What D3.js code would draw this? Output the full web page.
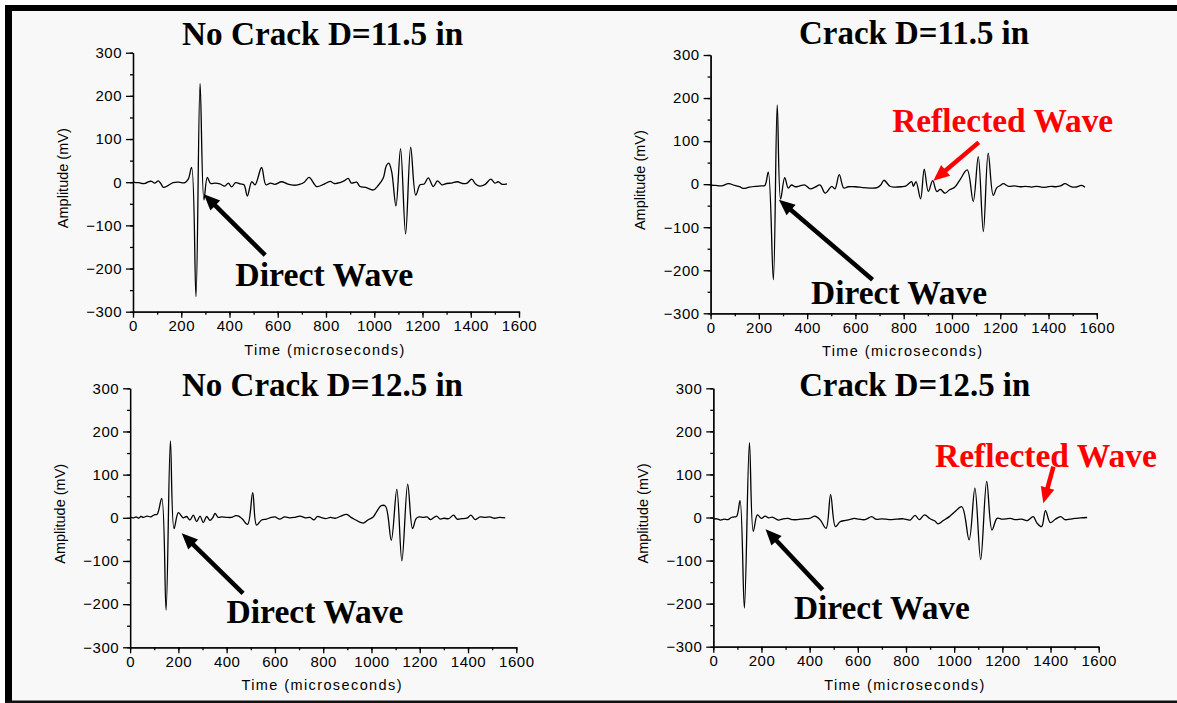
<!DOCTYPE html>
<html>
<head>
<meta charset="UTF-8">
<title>Direct and reflected waves</title>
<script src="https://d3js.org/d3.v7.min.js"></script>
<style>
  body { margin: 0; background: #fff; }
  svg text { font-family: "Liberation Sans", Arial, sans-serif; }
  .big { font-family: "Liberation Serif", "Times New Roman", serif !important; font-weight: bold; font-size: 33px; }
</style>
</head>
<body>
<svg width="1177" height="703"></svg>
<script>
// tick values
const timeTicks = [0, 200, 400, 600, 800, 1000, 1200, 1400, 1600];
const timeMinor = d3.range(0, 1601, 100);
const ampTicks = [-300, -200, -100, 0, 100, 200, 300];
const ampMinor = d3.range(-300, 301, 50);

// waveforms: [time (us), amplitude (mV)]
const noCrack115 = [
  [0,0],[12,-1],[25,-1],[38,-3],[50,-3],[63,1],[77,2],[90,-2],[105,3],[116,-4],[126,-12],
  [145,-8],[166,-1],[190,0],[215,-1],[229,7],[243,34],[261,-265],[278,229],[294,-41],[308,11],
  [322,-3],[340,-2],[360,-4],[381,-9],[395,-2],[409,-11],[425,-1],[445,-4],[460,-6],[474,-32],
  [492,1],[506,-6],[533,34],[551,-6],[570,-2],[588,-5],[616,1],[640,-4],[665,-7],[690,-5],
  [710,0],[730,11],[761,-10],[790,-5],[817,2],[835,-3],[858,-1],[875,3],[892,9],[905,-2],
  [927,0],[941,-10],[965,-12],[996,-18],[1017,-7],[1037,9],[1050,38],[1060,44],[1072,25],
  [1090,-55],[1109,78],[1130,-120],[1151,81],[1172,-30],[1190,-6],[1207,-4],[1224,10],
  [1245,-10],[1262,3],[1280,-6],[1300,-3],[1320,-2],[1345,1],[1365,-3],[1385,-2],[1404,7],
  [1420,-4],[1438,-9],[1460,-5],[1483,7],[1500,-2],[1514,1],[1530,-5],[1550,-4]
];
const crack115 = [
  [0,-2],[20,-3],[45,-4],[74,1],[100,-3],[120,-6],[135,-10],[160,-7],[185,-5],[210,-4],
  [225,-3],[239,28],[260,-222],[276,184],[290,-35],[307,15],[322,-9],[335,-2],[350,-6],
  [370,-4],[391,-2],[413,-11],[433,-7],[454,-2],[475,-21],[502,-5],[515,-11],[533,22],
  [552,-9],[570,-6],[600,-6],[630,-8],[660,-9],[690,-8],[705,-2],[718,9],[743,-5],[760,-7],
  [790,-6],[810,-4],[833,6],[840,-5],[851,6],[870,-34],[885,35],[902,-17],[920,8],[937,-17],
  [952,-12],[971,-21],[990,-13],[1010,-8],[1033,10],[1063,33],[1088,-40],[1109,64],
  [1130,-110],[1150,72],[1171,-26],[1186,-8],[1200,-3],[1213,1],[1235,-5],[1260,-4],
  [1282,-6],[1305,-5],[1330,-7],[1350,-5],[1370,-7],[1392,-7],[1410,-5],[1430,-6],
  [1450,-4],[1468,1],[1490,-5],[1510,-7],[1537,-3],[1551,-7]
];
const noCrack125 = [
  [0,1],[15,0],[25,2],[35,-1],[45,3],[55,1],[70,4],[85,2],[100,7],[112,8],[131,45],
  [149,-214],[167,178],[182,-25],[200,12],[220,0],[234,3],[248,-5],[262,6],[276,-9],
  [290,4],[303,-11],[317,3],[331,-6],[342,0],[352,10],[365,1],[380,2],[400,1],[420,1],
  [438,5],[450,4],[465,-3],[487,-15],[508,58],[524,-17],[545,-5],[565,-3],[585,1],[600,2],
  [620,-3],[640,2],[660,0],[680,1],[704,4],[725,0],[745,1],[762,-5],[775,3],[790,1],
  [810,-2],[830,1],[850,-1],[870,3],[897,8],[915,1],[935,-5],[952,-10],[968,-12],[985,-5],
  [1007,2],[1021,14],[1040,28],[1058,27],[1082,-52],[1105,66],[1126,-100],[1150,78],
  [1170,-25],[1185,-2],[1197,2],[1215,1],[1230,2],[1245,-4],[1269,4],[1285,-3],[1300,-1],
  [1320,-2],[1340,6],[1355,-3],[1375,-2],[1395,-1],[1412,6],[1430,-4],[1450,2],[1470,1],
  [1490,2],[1510,-1],[1530,1],[1554,0]
];
const crack125 = [
  [0,-4],[15,-3],[30,-6],[45,-4],[60,-5],[75,0],[83,1],[97,3],[111,39],[129,-210],[150,174],
  [166,-32],[183,6],[200,-2],[215,3],[230,-1],[245,1],[270,-6],[290,-3],[310,-2],[330,-5],
  [350,-5],[375,-3],[400,-2],[422,3],[443,-5],[468,-25],[487,53],[507,-21],[526,-10],
  [545,-7],[565,-5],[585,-2],[605,-4],[630,-5],[658,2],[675,-4],[700,-3],[730,-5],[760,-4],
  [790,-3],[806,-5],[817,-6],[838,5],[855,-5],[877,6],[900,-3],[920,-8],[933,-15],[955,-7],
  [980,2],[1004,14],[1032,25],[1062,-52],[1086,68],[1110,-98],[1135,84],[1157,-29],
  [1178,-2],[1200,-4],[1233,-2],[1255,-5],[1280,-4],[1304,-7],[1328,2],[1344,-13],
  [1363,-21],[1379,16],[1399,-12],[1420,-4],[1442,2],[1460,-5],[1480,-4],[1500,-2],
  [1525,-1],[1552,0]
];

// annotation anchors in data units
const panels = [
  { data: noCrack115, box: [133, 519, 52.7, 311.7],
    title: { text: "No Crack D=11.5 in", at: [786, 318], w: 281 },
    direct: { at: [793, -240], w: 178, tail: [548, -169], tip: [294, -28] } },
  { data: crack115, box: [710.6, 1096.8, 55, 313.3],
    title: { text: "Crack D=11.5 in", at: [843, 325], w: 230 },
    direct: { at: [781, -279], w: 176, tail: [671, -222], tip: [283, -36] },
    reflected: { at: [1210, 120], w: 221, tail: [1111, 97], tip: [923, 8] } },
  { data: noCrack125, box: [130.1, 516.3, 388.3, 647.3],
    title: { text: "No Crack D=12.5 in", at: [797, 282], w: 281 },
    direct: { at: [766, -243], w: 177, tail: [468, -175], tip: [214, -36] } },
  { data: crack125, box: [713.3, 1098.7, 388.3, 646.7],
    title: { text: "Crack D=12.5 in", at: [836, 283], w: 231 },
    direct: { at: [700, -236], w: 176, tail: [454, -168], tip: [217, -27] },
    reflected: { at: [1381, 118], w: 222, tail: [1412, 118], tip: [1370, 33] } }
];

const svg = d3.select("svg");

// frame
svg.append("rect").attr("x", 5).attr("y", 5).attr("width", 1172).attr("height", 698).attr("fill", "#f8f8f8");
svg.append("rect").attr("x", 5).attr("y", 5).attr("width", 1172).attr("height", 6).attr("fill", "#000");
svg.append("rect").attr("x", 5).attr("y", 5).attr("width", 7).attr("height", 698).attr("fill", "#000");
svg.append("rect").attr("x", 5).attr("y", 700.5).attr("width", 1172).attr("height", 2.5).attr("fill", "#111");

function arrow(g, tail, tip, color) {
  const dx = tip[0] - tail[0], dy = tip[1] - tail[1];
  const len = Math.hypot(dx, dy), ux = dx / len, uy = dy / len;
  const hl = 16, hw = 7;
  const bx = tip[0] - ux * hl, by = tip[1] - uy * hl;
  g.append("line")
    .attr("x1", tail[0]).attr("y1", tail[1])
    .attr("x2", bx + ux * 2).attr("y2", by + uy * 2)
    .attr("stroke", color).attr("stroke-width", 4.5);
  g.append("path")
    .attr("d", `M${tip[0]},${tip[1]}L${bx - uy * hw},${by + ux * hw}L${bx + uy * hw},${by - ux * hw}Z`)
    .attr("fill", color);
}

function bigText(g, x, y, a, color) {
  g.append("text")
    .attr("class", "big")
    .attr("x", x(a.at[0])).attr("y", y(a.at[1]))
    .attr("text-anchor", "middle")
    .attr("textLength", a.w).attr("lengthAdjust", "spacingAndGlyphs")
    .attr("fill", color)
    .text(a.text);
}

panels.forEach(p => {
  const [left, right, top, bottom] = p.box;
  const x = d3.scaleLinear().domain([0, 1600]).range([left, right]);
  const y = d3.scaleLinear().domain([-300, 300]).range([bottom, top]);
  const g = svg.append("g");

  // minor ticks
  g.append("g").attr("transform", `translate(0,${bottom})`)
    .call(d3.axisBottom(x).tickValues(timeMinor).tickSize(3).tickSizeOuter(0).tickFormat(""));
  g.append("g").attr("transform", `translate(${left},0)`)
    .call(d3.axisLeft(y).tickValues(ampMinor).tickSize(3).tickSizeOuter(0).tickFormat(""));

  // major ticks with labels
  g.append("g").attr("transform", `translate(0,${bottom})`)
    .call(d3.axisBottom(x).tickValues(timeTicks).tickSize(6).tickSizeOuter(0).tickPadding(3).tickFormat(d3.format("d")));
  g.append("g").attr("transform", `translate(${left},0)`)
    .call(d3.axisLeft(y).tickValues(ampTicks).tickSize(7).tickSizeOuter(0).tickPadding(4).tickFormat(d3.format("d")));

  g.selectAll(".domain, .tick line").attr("stroke", "#000").attr("stroke-width", 1.3);
  g.selectAll(".tick text")
    .attr("font-family", "Liberation Sans, Arial, sans-serif")
    .attr("font-size", 15).style("letter-spacing", "0.5px").attr("fill", "#000");

  // axis titles
  g.append("text")
    .attr("transform", `translate(${left - 65.5},${(top + bottom) / 2 - 4}) rotate(-90)`)
    .attr("text-anchor", "middle")
    .attr("font-size", 14.5)
    .text("Amplitude (mV)");
  g.append("text")
    .attr("x", (left + right) / 2 - 1).attr("y", bottom + 43)
    .attr("text-anchor", "middle")
    .attr("font-size", 14.5).style("letter-spacing", "1.4px")
    .text("Time (microseconds)");

  // waveform
  const line = d3.line()
    .x(d => x(d[0]))
    .y(d => y(d[1]))
    .curve(d3.curveCatmullRom.alpha(0.5));
  g.append("path")
    .datum(p.data)
    .attr("fill", "none")
    .attr("stroke", "#000")
    .attr("stroke-width", 1.3)
    .attr("d", line);

  // annotations
  bigText(g, x, y, p.title, "#000");
  bigText(g, x, y, Object.assign({ text: "Direct Wave" }, p.direct), "#000");
  arrow(g, [x(p.direct.tail[0]), y(p.direct.tail[1])], [x(p.direct.tip[0]), y(p.direct.tip[1])], "#000");
  if (p.reflected) {
    bigText(g, x, y, Object.assign({ text: "Reflected Wave" }, p.reflected), "#ff0000");
    arrow(g, [x(p.reflected.tail[0]), y(p.reflected.tail[1])], [x(p.reflected.tip[0]), y(p.reflected.tip[1])], "#ff0000");
  }
});
</script>
</body>
</html>
